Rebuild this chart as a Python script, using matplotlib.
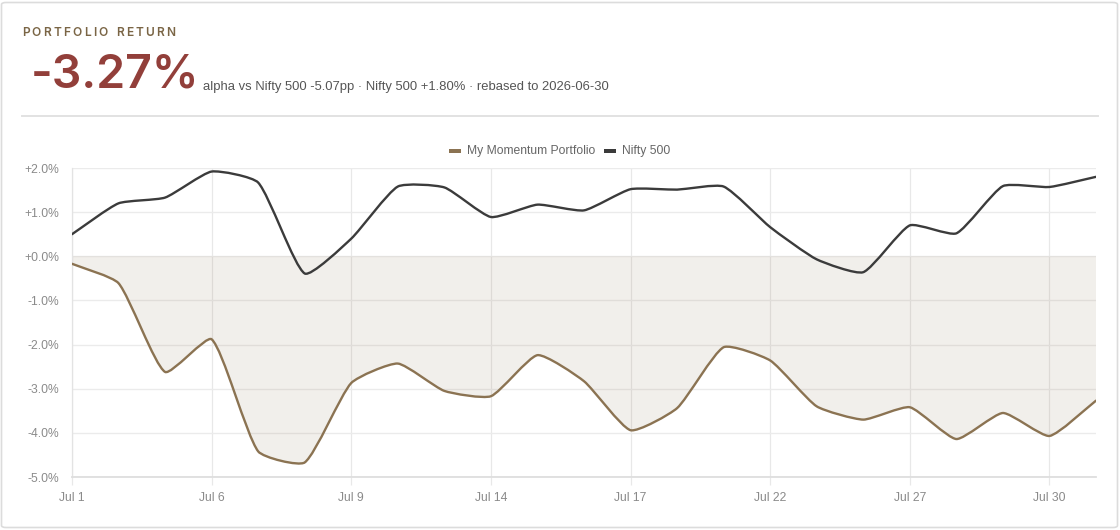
import numpy as np
import matplotlib
matplotlib.use("Agg")
import matplotlib.pyplot as plt
from matplotlib.path import Path
from matplotlib.patches import PathPatch, Rectangle, FancyBboxPatch
from matplotlib.lines import Line2D

# ---------------- data ----------------
dates = ["Jul 1", "Jul 2", "Jul 3", "Jul 6", "Jul 7", "Jul 8", "Jul 9", "Jul 10",
         "Jul 13", "Jul 14", "Jul 15", "Jul 16", "Jul 17", "Jul 20", "Jul 21",
         "Jul 22", "Jul 23", "Jul 24", "Jul 27", "Jul 28", "Jul 29", "Jul 30", "Jul 31"]
portfolio = [-0.17, -0.61, -2.62, -1.88, -4.42, -4.67, -2.87, -2.43, -3.05, -3.17,
             -2.24, -2.83, -3.94, -3.44, -2.06, -2.36, -3.40, -3.70, -3.42, -4.14,
             -3.55, -4.07, -3.27]
nifty = [0.50, 1.20, 1.33, 1.92, 1.67, -0.39, 0.40, 1.58, 1.56, 0.89,
         1.17, 1.04, 1.52, 1.51, 1.58, 0.66, -0.07, -0.36, 0.70, 0.52,
         1.59, 1.57, 1.80]
series_names = ["My Momentum Portfolio", "Nifty 500"]
y_ticks = [-5, -4, -3, -2, -1, 0, 1, 2]
y_tick_labels = ["-5.0%", "-4.0%", "-3.0%", "-2.0%", "-1.0%", "+0.0%", "+1.0%", "+2.0%"]
label_every = 3
title = "PORTFOLIO RETURN"
headline = "-3.27%"
subtitle = "alpha vs Nifty 500 -5.07pp \u00b7 Nifty 500 +1.80% \u00b7 rebased to 2026-06-30"

# ---------------- style ----------------
W, H = 1120, 530
BROWN = "#8b7352"
DARK = "#3b3b3b"
GRID = "#ebebeb"
TICKC = "#8a8a8a"
SANS = ["Liberation Sans", "DejaVu Sans"]
INTER = ["Inter", "DejaVu Sans"]

fig = plt.figure(figsize=(W / 100, H / 100), dpi=100)
fig.patch.set_facecolor("white")


def F(x, y):
    return (x / W, 1 - y / H)


# card border
card = FancyBboxPatch((1.5 / W, 2.5 / H), (W - 4) / W, (H - 5) / H,
                      boxstyle="round,pad=0,rounding_size=0.004",
                      transform=fig.transFigure, facecolor="white",
                      edgecolor="#dcdcdc", lw=1.2, zorder=0)
fig.add_artist(card)

# axes area
x0, x1, ytop, ybot = 72, 1096, 168, 477
ax = fig.add_axes([x0 / W, 1 - ybot / H, (x1 - x0) / W, (ybot - ytop) / H])
ax.set_facecolor("none")
n = len(dates)
idx = np.arange(n)
ax.set_xlim(0, n - 1)
ax.set_ylim(-5, 2)

# grid
ax.set_yticks(y_ticks)
ax.set_yticklabels(y_tick_labels)
xt = idx[::label_every]
ax.set_xticks(xt)
ax.set_xticklabels([dates[i] for i in xt])
ax.grid(True, axis="y", color=GRID, lw=1.0)
ax.grid(True, axis="x", color="#e8e8e8", lw=0.9)
ax.set_axisbelow(True)
for s in ["top", "right"]:
    ax.spines[s].set_visible(False)
ax.spines["left"].set_color("#e3e3e3")
ax.spines["left"].set_linewidth(0.9)
ax.spines["bottom"].set_color("#dedede")
ax.spines["bottom"].set_linewidth(1.3)
ax.tick_params(axis="y", length=0, pad=9, labelsize=8.7, labelcolor=TICKC)
ax.tick_params(axis="x", length=6, width=0.9, color="#e8e8e8", pad=5,
               labelsize=8.7, labelcolor=TICKC)
for lab in ax.get_xticklabels() + ax.get_yticklabels():
    lab.set_fontfamily(SANS)

# pixel scale for Chart.js-like spline
sx = (x1 - x0) / (n - 1)
sy = (ybot - ytop) / 7.0


def spline_verts(xs, ys, t=0.18):
    P = np.column_stack([np.asarray(xs, float) * sx, np.asarray(ys, float) * sy])
    m = len(P)
    cprev, cnext = [], []
    for i in range(m):
        prev = P[i - 1] if i > 0 else P[i]
        nxt = P[i + 1] if i < m - 1 else P[i]
        cur = P[i]
        d01 = np.hypot(*(cur - prev))
        d12 = np.hypot(*(nxt - cur))
        s = d01 + d12
        s01 = d01 / s if s else 0
        s12 = d12 / s if s else 0
        cprev.append(cur - t * s01 * (nxt - prev))
        cnext.append(cur + t * s12 * (nxt - prev))
    verts = [P[0]]
    codes = [Path.MOVETO]
    for i in range(m - 1):
        verts += [cnext[i], cprev[i + 1], P[i + 1]]
        codes += [Path.CURVE4] * 3
    V = np.array(verts)
    V[:, 0] /= sx
    V[:, 1] /= sy
    return V, codes


# portfolio fill to origin
Vp, Cp = spline_verts(idx, portfolio)
fill_verts = np.vstack([Vp, [[idx[-1], 0], [idx[0], 0], [idx[0], 0]]])
fill_codes = Cp + [Path.LINETO, Path.LINETO, Path.CLOSEPOLY]
ax.add_patch(PathPatch(Path(fill_verts, fill_codes), facecolor=BROWN, alpha=0.115,
                       edgecolor="none", zorder=2))
ax.add_patch(PathPatch(Path(Vp, Cp), facecolor="none", edgecolor=BROWN, lw=1.7,
                       zorder=4, capstyle="round", joinstyle="round"))
Vn, Cn = spline_verts(idx, nifty)
ax.add_patch(PathPatch(Path(Vn, Cn), facecolor="none", edgecolor=DARK, lw=1.7,
                       zorder=5, capstyle="round", joinstyle="round"))

# legend (manual, Chart.js style)
ly = 151
fig.add_artist(Rectangle(F(449, ly + 2), 12 / W, 4 / H, transform=fig.transFigure,
                         facecolor=BROWN, edgecolor="none"))
fig.text(*F(467, ly), series_names[0], fontsize=8.7, color="#666666",
         family=SANS, va="center", ha="left")
fig.add_artist(Rectangle(F(604, ly + 2), 12 / W, 4 / H, transform=fig.transFigure,
                         facecolor=DARK, edgecolor="none"))
fig.text(*F(622, ly), series_names[1], fontsize=8.7, color="#666666",
         family=SANS, va="center", ha="left")

# header
renderer = fig.canvas.get_renderer()
title_kw = dict(fontsize=8.6, color="#7a6545", family=INTER, weight="semibold",
                va="baseline", ha="left")
widths = []
for ch in title:
    tt = fig.text(0, 0, ch, **title_kw)
    widths.append(tt.get_window_extent(renderer).width if ch != " " else 0)
    tt.remove()
space_w = 4.0
natural = sum(w if w else space_w for w in widths)
track = (153 - natural) / (len(title) - 1)
xpos = 22.0
for ch, w in zip(title, widths):
    if ch != " ":
        fig.text(*F(xpos, 36), ch, **title_kw)
        xpos += w + track
    else:
        xpos += space_w + track

fig.text(*F(31, 88), headline, fontsize=33.5, color="#923f3a", family=INTER,
         weight="semibold", va="baseline", ha="left")
fig.text(*F(203, 90), subtitle, fontsize=9.4, color="#555555", family=SANS,
         va="baseline", ha="left")
fig.add_artist(Line2D([22 / W, 1098 / W], [1 - 116 / H, 1 - 116 / H],
                      transform=fig.transFigure, color="#e2e2e2", lw=1.4))

fig.savefig("out.png", dpi=100, facecolor="white")
